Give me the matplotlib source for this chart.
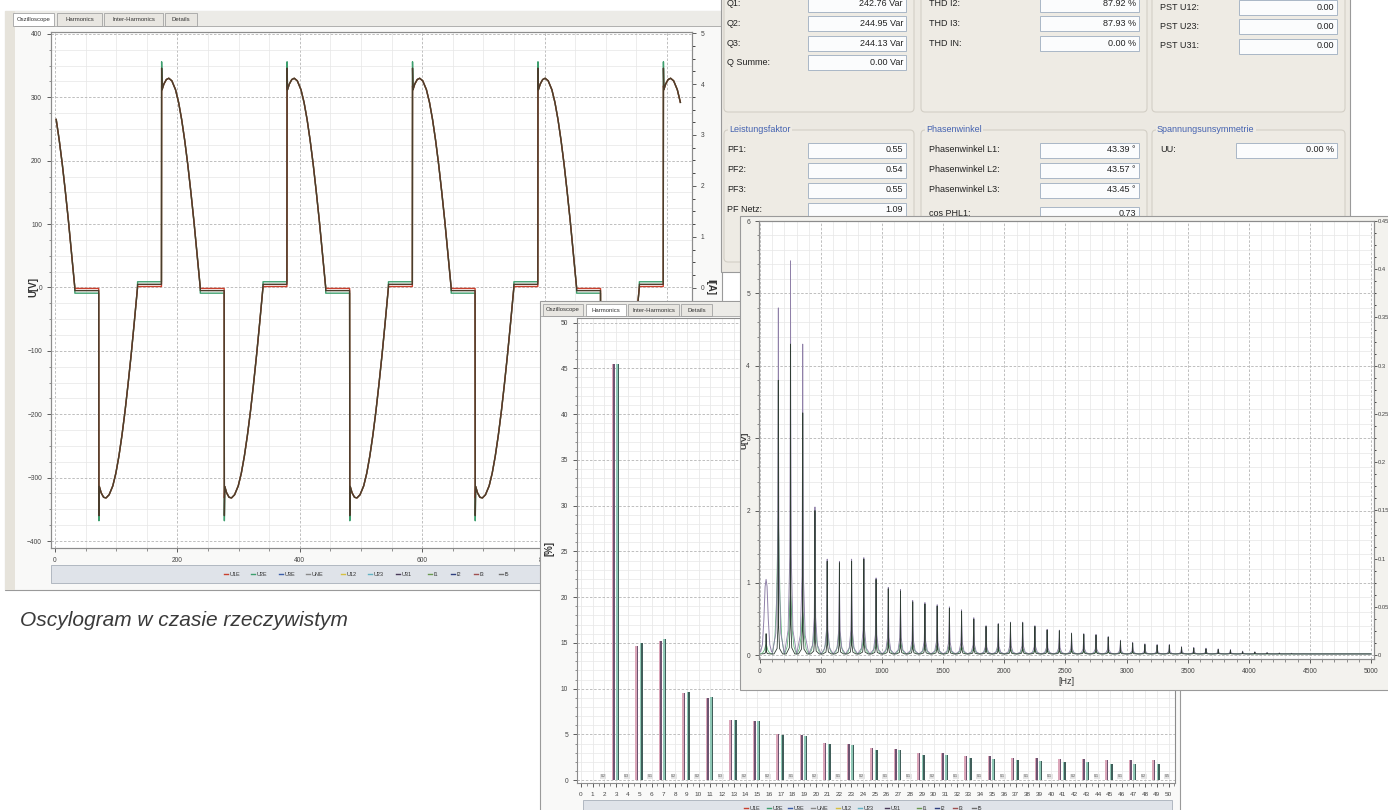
import matplotlib
matplotlib.use('Agg')
import matplotlib.pyplot as plt
import numpy as np
from matplotlib.patches import FancyBboxPatch, Rectangle
from matplotlib.ticker import MultipleLocator

plt.rcParams['font.family'] = ['Liberation Sans', 'DejaVu Sans']

W, H = 1388, 810

# ------------------------------
#    DATA
# ------------------------------

# Oscilloscope: one mains period, sample offset from rising zero crossing -> volts
osc_cycle_t = [0, 39, 39.3, 40, 43, 47, 51, 56, 62, 67, 72, 77, 82, 87, 92, 97, 102.4,
               102.5, 141.5, 141.8, 142.5, 145.5, 149.5, 153.5, 158.5, 164.5, 169.5, 174.5,
               179.5, 184.5, 189.5, 194.5, 199.5, 204.9]
osc_cycle_u = [5, 5, 350, 312, 321, 328, 330, 326, 312, 292, 265, 232, 194, 151, 105, 55, 0,
               -5, -5, -362, -314, -324, -331, -332, -327, -313, -293, -266, -233, -195,
               -152, -106, -56, 0]
osc_cycle_starts = [-70, 135, 340, 545, 750, 955]
osc_last_sample = 1023
osc_step = [9, 1.5, 5]
osc_spike_hi = [356, 318, 346]
osc_spike_lo = [-368, -332, -360]
osc_colors = ['#3d9f6e', '#c9402e', '#4a3d2c']

legend_names = ['U1E', 'U2E', 'U3E', 'UNE', 'U12', 'U23', 'U31', 'I1', 'I2', 'I3', 'I5']
legend_colors = ['#c9402e', '#3d9f6e', '#3b5ea8', '#8a8a8a', '#d6c040', '#62b2c4',
                 '#4a3a5a', '#6a9a50', '#304080', '#a05050', '#707070']

# Harmonics in % of fundamental
harm_odd = [3, 5, 7, 9, 11, 13, 15, 17, 19, 21, 23, 25, 27, 29, 31, 33, 35, 37, 39, 41, 43, 45, 47, 49]
harm_u1 = [45.5, 14.7, 15.2, 9.5, 9.0, 6.6, 6.5, 5.0, 4.9, 4.1, 4.0, 3.5, 3.4, 3.0, 3.0, 2.7,
           2.7, 2.4, 2.4, 2.3, 2.3, 2.2, 2.2, 2.2]
harm_u2 = [45.5, 15.0, 15.4, 9.6, 9.1, 6.6, 6.5, 4.9, 4.8, 4.0, 3.9, 3.3, 3.3, 2.8, 2.8, 2.4,
           2.3, 2.2, 2.1, 2.0, 2.0, 1.8, 1.8, 1.8]
harm_even = [2, 4, 6, 8, 10, 12, 14, 16, 18, 20, 22, 24, 26, 28, 30, 32, 34, 36, 38, 40, 42,
             44, 46, 48, 50]
harm_even_vals = ['0.2', '0.3', '0.1', '0.2', '0.2', '0.3', '0.2', '0.2', '0.1', '0.2', '0.1',
                  '0.2', '0.1', '0.1', '0.2', '0.1', '0.1', '0.1', '0.1', '0.1', '0.2', '0.1',
                  '0.1', '0.2', '0.5']

# Spectrum (FFT) peaks, volts; the first entry (50 Hz) is a broad hump
spec_f = [50, 150, 250, 350, 450, 550, 650, 750, 850, 950, 1050, 1150, 1250, 1350, 1450,
          1550, 1650, 1750, 1850, 1950, 2050, 2150, 2250, 2350, 2450, 2550, 2650, 2750, 2850,
          2950, 3050, 3150, 3250, 3350, 3450, 3550, 3650, 3750, 3850, 3950, 4050, 4150, 4250,
          4350, 4450]
spec_u1 = [1.05, 4.8, 5.45, 4.3, 2.05, 1.33, 1.30, 1.33, 1.35, 1.07, 0.94, 0.91, 0.76, 0.73,
           0.70, 0.67, 0.63, 0.52, 0.41, 0.44, 0.46, 0.46, 0.41, 0.36, 0.35, 0.31, 0.30, 0.29,
           0.26, 0.21, 0.18, 0.16, 0.15, 0.15, 0.12, 0.11, 0.10, 0.09, 0.08, 0.06, 0.05, 0.04,
           0.035, 0.03, 0.025]
spec_u2 = [0.3, 3.8, 4.3, 3.35, 2.0, 1.3, 1.28, 1.3, 1.33, 1.05, 0.92, 0.89, 0.74, 0.71,
           0.68, 0.65, 0.61, 0.50, 0.40, 0.43, 0.45, 0.45, 0.40, 0.35, 0.34, 0.30, 0.29, 0.28,
           0.25, 0.20, 0.17, 0.15, 0.14, 0.14, 0.11, 0.10, 0.09, 0.08, 0.07, 0.05, 0.045, 0.035,
           0.03, 0.025, 0.02]
spec_i = [0.15, 1.9, 0.85, 0.6, 0.45, 0.35, 0.32, 0.3, 0.25, 0.22, 0.2, 0.18, 0.16, 0.15,
          0.14, 0.13, 0.12, 0.11, 0.1, 0.1, 0.09, 0.09, 0.08, 0.08, 0.07, 0.07, 0.06, 0.06,
          0.05, 0.05, 0.05, 0.04, 0.04, 0.04, 0.04, 0.03, 0.03, 0.03, 0.03, 0.03, 0.02, 0.02,
          0.02, 0.02, 0.02]

# Measurement panel
q_labels = ['Q1:', 'Q2:', 'Q3:', 'Q Summe:']
q_values = ['242.76 Var', '244.95 Var', '244.13 Var', '0.00 Var']
thd_labels = ['THD I2:', 'THD I3:', 'THD IN:']
thd_values = ['87.92 %', '87.93 %', '0.00 %']
pst_labels = ['PST U12:', 'PST U23:', 'PST U31:']
pst_values = ['0.00', '0.00', '0.00']
pf_labels = ['PF1:', 'PF2:', 'PF3:', 'PF Netz:']
pf_values = ['0.55', '0.54', '0.55', '1.09']
phase_labels = ['Phasenwinkel L1:', 'Phasenwinkel L2:', 'Phasenwinkel L3:', 'cos PHL1:']
phase_values = ['43.39 °', '43.57 °', '43.45 °', '0.73']
unsym_labels = ['UU:']
unsym_values = ['0.00 %']


# ------------------------------
#    HELPERS
# ------------------------------

fig = plt.figure(figsize=(W / 100, H / 100), dpi=100)
fig.patch.set_facecolor('white')


def chrome(z):
    """Full-figure axes in pixel coordinates (y down) for window decoration."""
    ax = fig.add_axes([0, 0, 1, 1], zorder=z)
    ax.set_xlim(0, W)
    ax.set_ylim(H, 0)
    ax.axis('off')
    return ax


def plot_axes(x0, y0, x1, y1, z):
    ax = fig.add_axes([x0 / W, 1 - y1 / H, (x1 - x0) / W, (y1 - y0) / H], zorder=z)
    ax.set_facecolor('white')
    for s in ax.spines.values():
        s.set_color('#8c8c8c')
        s.set_linewidth(0.8)
    ax.tick_params(labelsize=4.8, colors='#444444', length=3, width=0.6)
    ax.tick_params(which='minor', length=1.8, width=0.5, colors='#666666')
    return ax


def grid_style(ax, axis='both'):
    ax.grid(True, which='major', axis=axis, color='#b4b4b4', ls=(0, (3, 2)), lw=0.6)
    ax.grid(True, which='minor', axis=axis, color='#e6e6e6', ls='-', lw=0.5)
    ax.set_axisbelow(True)


def tab(ax, x0, x1, y0, y1, label, active=False):
    ax.add_patch(Rectangle((x0, y0), x1 - x0, y1 - y0, fc='white' if active else '#e8e6e1',
                           ec='#a3a3a3', lw=0.6))
    ax.text((x0 + x1) / 2, (y0 + y1) / 2, label, ha='center', va='center', fontsize=4.3,
            color='#333333')


def legend_bar(ax, x0, x1, y0, y1, xs, y):
    ax.add_patch(Rectangle((x0, y0), x1 - x0, y1 - y0, fc='#dfe3e9', ec='#a8b0ba', lw=0.6))
    for x, name, c in zip(xs, legend_names, legend_colors):
        ax.plot([x, x + 4], [y, y], color=c, lw=1.0)
        ax.text(x + 5.5, y, name, fontsize=4, va='center', ha='left', color='#333333')


def field(ax, lx, bx0, bx1, y, label, value):
    ax.text(lx, y, label, fontsize=6.5, va='center', ha='left', color='#222222')
    ax.add_patch(Rectangle((bx0, y - 7.5), bx1 - bx0, 15, fc='#fbfcfd', ec='#a9b7c6', lw=0.7))
    ax.text(bx1 - 3, y, value, fontsize=6.5, va='center', ha='right', color='#222222')


def group(ax, x0, y0, x1, y1, title=None):
    ax.add_patch(FancyBboxPatch((x0, y0), x1 - x0, y1 - y0, boxstyle='round,pad=0,rounding_size=4',
                                fc='#eeebe4', ec='#d3cfc6', lw=0.8))
    if title:
        ax.text(x0 + 5, y0, title, fontsize=6.5, va='center', ha='left', color='#4462b0',
                bbox=dict(fc='#eeebe4', ec='none', pad=1))


def spike_trace(freqs, heights, dx, shape, base, tail=True):
    xs, ys = [], []
    for f, h in zip(freqs, heights):
        for d, k in zip(dx, shape):
            xs.append(f + d)
            ys.append(base + k * (h - base))
    if tail:
        xs.append(5000)
        ys.append(base)
    return xs, ys


# ------------------------------
#    OSCILLOSCOPE WINDOW
# ------------------------------

c1 = chrome(1)
c1.add_patch(Rectangle((5, 11), 717, 579, fc='#f9f9f8', ec='#9a9a9a', lw=0.8))
c1.add_patch(Rectangle((5, 11), 10, 579, fc='#e6e3db', ec='none'))
c1.add_patch(Rectangle((15, 11), 707, 15, fc='#ecebe7', ec='none'))
c1.plot([15, 722], [25.5, 25.5], color='#a3a3a3', lw=0.6)
tab(c1, 13, 54, 13, 25.5, 'Oszilloscope', True)
tab(c1, 57, 102, 13, 25.5, 'Harmonics')
tab(c1, 104, 163, 13, 25.5, 'Inter-Harmonics')
tab(c1, 165, 197, 13, 25.5, 'Details')
legend_bar(c1, 51, 722, 565, 583, [224, 251, 279, 306, 341, 368, 396, 428, 451, 474, 499], 574)
c1.text(33, 287, 'U[V]', rotation=90, fontsize=7, fontweight='bold', ha='center', va='center',
        color='#333333')
c1.text(710, 287, 'I[A]', rotation=270, fontsize=7, fontweight='bold', ha='center', va='center',
        color='#333333')

ax_o = plot_axes(51, 32, 692, 548, 2)
t_cycle = np.array(osc_cycle_t, dtype=float)
t_all = np.concatenate([t_cycle + s for s in osc_cycle_starts])
keep = (t_all >= 0) & (t_all <= osc_last_sample)
for step, hi, lo, col in zip(osc_step, osc_spike_hi, osc_spike_lo, osc_colors):
    u = np.array(osc_cycle_u, dtype=float)
    u[u == 5] = step
    u[u == -5] = -step
    u[u == 350] = hi
    u[u == -362] = lo
    u_all = np.tile(u, len(osc_cycle_starts))
    ax_o.plot(t_all[keep], u_all[keep], color=col, lw=1.0)
ax_o.set_xlim(-6.5, 1041)
ax_o.set_ylim(-411, 403)
ax_o.xaxis.set_major_locator(MultipleLocator(200))
ax_o.xaxis.set_minor_locator(MultipleLocator(50))
ax_o.yaxis.set_major_locator(MultipleLocator(100))
ax_o.yaxis.set_minor_locator(MultipleLocator(25))
grid_style(ax_o)

ax_o2 = ax_o.twinx()
ax_o2.set_zorder(2.5)
ax_o2.set_ylim(-5.1, 5.02)
ax_o2.yaxis.set_major_locator(MultipleLocator(1))
ax_o2.yaxis.set_minor_locator(MultipleLocator(0.25))
ax_o2.tick_params(labelsize=4.8, colors='#444444', length=3, width=0.6)
ax_o2.tick_params(which='minor', length=1.8, width=0.5)
for s in ax_o2.spines.values():
    s.set_color('#8c8c8c')
    s.set_linewidth(0.8)

# ------------------------------
#    MEASUREMENT PANEL
# ------------------------------

c2 = chrome(3)
c2.add_patch(Rectangle((721, -2), 629, 274, fc='#ece9e2', ec='#9a9a9a', lw=0.8))
group(c2, 724, -10, 914, 112)
group(c2, 921, -10, 1147, 112)
group(c2, 1152, -10, 1345, 112)
group(c2, 724, 130, 914, 262, 'Leistungsfaktor')
group(c2, 921, 130, 1147, 262, 'Phasenwinkel')
group(c2, 1152, 130, 1345, 262, 'Spannungsunsymmetrie')

for lab, val, y in zip(q_labels, q_values, [4, 23.5, 43, 62.5]):
    field(c2, 727, 808, 906, y, lab, val)
for lab, val, y in zip(thd_labels, thd_values, [4, 23.5, 43]):
    field(c2, 929, 1040, 1139, y, lab, val)
for lab, val, y in zip(pst_labels, pst_values, [7, 26.5, 46]):
    field(c2, 1160, 1239, 1337, y, lab, val)
for lab, val, y in zip(pf_labels, pf_values, [150, 170, 190, 210]):
    field(c2, 727, 808, 906, y, lab, val)
for lab, val, y in zip(phase_labels, phase_values, [150, 170, 190, 214]):
    field(c2, 929, 1040, 1139, y, lab, val)
for lab, val, y in zip(unsym_labels, unsym_values, [150]):
    field(c2, 1160, 1236, 1337, y, lab, val)

# ------------------------------
#    HARMONICS WINDOW
# ------------------------------

c3 = chrome(4)
c3.add_patch(Rectangle((540, 301), 640, 530, fc='#f9f9f8', ec='#9a9a9a', lw=0.8))
c3.add_patch(Rectangle((541, 302), 638, 14, fc='#ecebe7', ec='none'))
c3.plot([541, 1180], [316, 316], color='#a3a3a3', lw=0.6)
tab(c3, 543, 583, 304, 316, 'Oszilloscope')
tab(c3, 586, 626, 304, 316, 'Harmonics', True)
tab(c3, 628, 679, 304, 316, 'Inter-Harmonics')
tab(c3, 681, 712, 304, 316, 'Details')
legend_bar(c3, 583, 1172, 800, 818, [744, 767, 788, 811, 836, 858, 885, 917, 935, 953, 972], 808)
c3.text(550, 548, '[%]', rotation=90, fontsize=7, fontweight='bold', ha='center', va='center',
        color='#333333')

ax_h = plot_axes(577, 318, 1175, 783, 5)
ho = np.array(harm_odd, dtype=float)
ax_h.bar(ho - 0.33, harm_u1, width=0.14, color='#dba6b9', lw=0)
ax_h.bar(ho - 0.19, harm_u1, width=0.14, color='#6d5470', lw=0)
ax_h.bar(ho + 0.05, harm_u2, width=0.14, color='#8fc8b6', lw=0)
ax_h.bar(ho + 0.19, harm_u2, width=0.14, color='#405e5a', lw=0)
for n, v in zip(harm_even, harm_even_vals):
    ax_h.text(n - 0.1, 0.2, v, fontsize=2.6, ha='center', va='bottom', color='#555555',
              bbox=dict(fc='#e4e4e4', ec='none', pad=0.3))
ax_h.set_xlim(-0.34, 50.55)
ax_h.set_ylim(-0.3, 50.5)
ax_h.xaxis.set_major_locator(MultipleLocator(1))
ax_h.xaxis.set_minor_locator(MultipleLocator(0.5))
ax_h.yaxis.set_major_locator(MultipleLocator(5))
ax_h.yaxis.set_minor_locator(MultipleLocator(1))
ax_h.tick_params(axis='x', labelsize=4.6)
ax_h.grid(True, which='major', axis='y', color='#b4b4b4', ls=(0, (3, 2)), lw=0.6)
ax_h.grid(True, which='minor', axis='y', color='#e8e8e8', ls='-', lw=0.5)
ax_h.grid(True, which='major', axis='x', color='#e4e4e4', ls='-', lw=0.5)
ax_h.set_axisbelow(True)

# ------------------------------
#    SPECTRUM WINDOW
# ------------------------------

c4 = chrome(6)
c4.add_patch(Rectangle((740, 216), 660, 474, fc='#f3f2ee', ec='#9a9a9a', lw=0.8))
c4.text(745, 440, 'U[V]', rotation=90, fontsize=6, fontweight='bold', ha='center', va='center',
        color='#333333')
c4.text(1066, 681, '[Hz]', fontsize=6.5, ha='center', va='center', color='#333333')

ax_s = plot_axes(759, 221, 1374, 659, 7)
gx, gy = spike_trace(spec_f, spec_i, [-48, -28, -14, -5, 0, 5, 14, 28, 48],
                     [0, 0.12, 0.4, 0.85, 1, 0.85, 0.4, 0.12, 0], 0.02)
ax_s.plot(gx, gy, color='#62b77c', lw=0.6)
hx, hy = spike_trace(spec_f[:1], spec_u1[:1], [-45, -30, -18, -8, 0, 8, 18, 30, 45],
                     [0, 0.1, 0.45, 0.9, 1, 0.9, 0.45, 0.1, 0], 0.05, tail=False)
ax_s.plot(hx, hy, color='#8f80a8', lw=0.7)
px_, py_ = spike_trace(spec_f[1:], spec_u1[1:], [-50, -20, -6, -1.5, 0, 1.5, 6, 20, 50],
                       [0, 0.06, 0.25, 0.7, 1, 0.7, 0.25, 0.06, 0], 0.02)
ax_s.plot(px_, py_, color='#8f80a8', lw=0.6)
dx_, dy_ = spike_trace(spec_f, spec_u2, [-35, -10, -3, -1, 0, 1, 3, 10, 35],
                       [0, 0.02, 0.1, 0.5, 1, 0.5, 0.1, 0.02, 0], 0.02)
ax_s.plot(dx_, dy_, color='#2f3d34', lw=0.6)
ax_s.set_xlim(-8, 5025)
ax_s.set_ylim(-0.05, 6.0)
ax_s.xaxis.set_major_locator(MultipleLocator(500))
ax_s.xaxis.set_minor_locator(MultipleLocator(100))
ax_s.yaxis.set_major_locator(MultipleLocator(1))
ax_s.yaxis.set_minor_locator(MultipleLocator(0.2))
grid_style(ax_s)

ax_s2 = ax_s.twinx()
ax_s2.set_zorder(7.5)
ax_s2.set_ylim(-0.004, 0.45)
ax_s2.yaxis.set_major_locator(MultipleLocator(0.05))
ax_s2.yaxis.set_minor_locator(MultipleLocator(0.0125))
ax_s2.tick_params(labelsize=4.2, colors='#444444', length=2, width=0.6, pad=1)
ax_s2.tick_params(which='minor', length=1.5, width=0.5)
ax_s2.yaxis.set_major_formatter(lambda v, p: f'{v:g}')
for s in ax_s2.spines.values():
    s.set_color('#8c8c8c')
    s.set_linewidth(0.8)

# ------------------------------
#    CAPTION
# ------------------------------

fig.text(20 / W, 1 - 620 / H, 'Oscylogram w czasie rzeczywistym', fontsize=15, style='italic',
         color='#3a3a3a', ha='left', va='center', zorder=10)

fig.savefig('out.png', dpi=100, facecolor='white')
